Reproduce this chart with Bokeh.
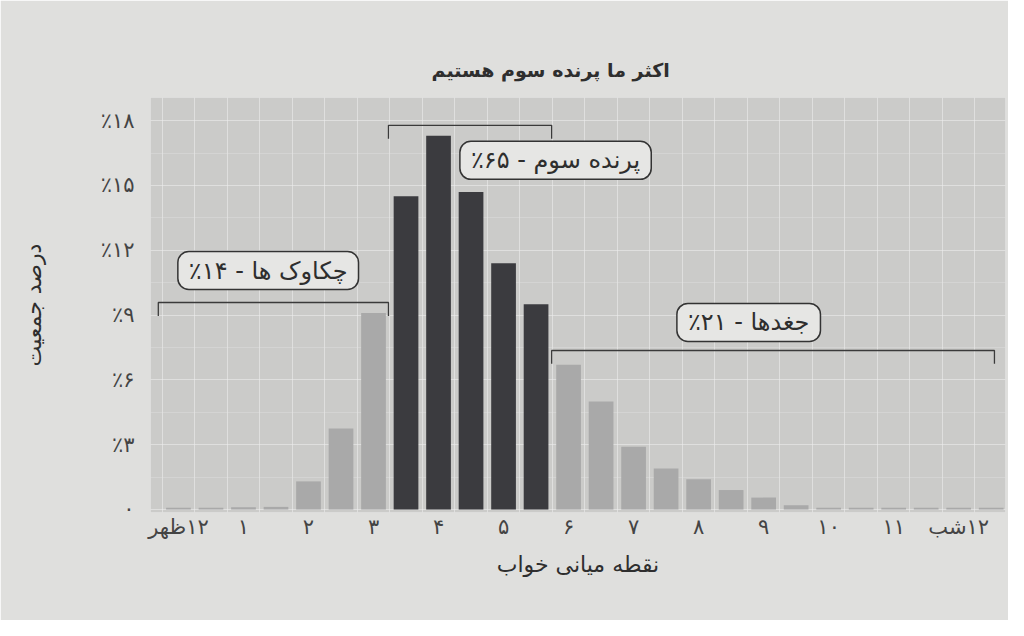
from bokeh.plotting import figure
from bokeh.models import Label, FixedTicker, Range1d, ColumnDataSource
from bokeh.transform import factor_cmap
from bokeh.embed import file_html
from bokeh.resources import INLINE

RLE, PDF = "\u202B", "\u202C"

# ---------------- data ----------------
title_text = "اکثر ما پرنده سوم هستیم"
x_title = "نقطه میانی خواب"
y_title = "درصد جمعیت"

hours = [0.0, 0.5, 1.0, 1.5, 2.0, 2.5, 3.0, 3.5, 4.0, 4.5, 5.0, 5.5, 6.0,
         6.5, 7.0, 7.5, 8.0, 8.5, 9.0, 9.5, 10.0, 10.5, 11.0, 11.5, 12.0, 12.5]
shares = [0.08, 0.08, 0.1, 0.12, 1.3, 3.75, 9.1, 14.5, 17.3, 14.7, 11.4, 9.5, 6.7,
          5.0, 2.9, 1.9, 1.4, 0.9, 0.55, 0.2, 0.08, 0.08, 0.08, 0.08, 0.08, 0.08]
bar_group = (["lark"] * 7) + (["third"] * 5) + (["owl"] * 14)

x_tick_values = [0, 1, 2, 3, 4, 5, 6, 7, 8, 9, 10, 11, 12]
x_tick_labels = ["۱۲ظهر", "۱", "۲", "۳", "۴", "۵", "۶", "۷", "۸", "۹", "۱۰", "۱۱", "۱۲شب"]
y_tick_values = [0, 3, 6, 9, 12, 15, 18]
y_tick_labels = ["۰", "٪۳", "٪۶", "٪۹", "٪۱۲", "٪۱۵", "٪۱۸"]

groups = ["lark", "third", "owl"]
group_names = ["چکاوک ها", "پرنده سوم", "جغدها"]
group_percent = ["۱۴٪", "۶۵٪", "۲۱٪"]
group_start = [-0.31, 3.23, 5.74]
group_end = [3.23, 5.74, 12.55]

# ---------------- styles / layout ----------------
FONT = "DejaVu Sans"
TEXT = "#2e2e2e"
group_colors = ["#a9a9a9", "#3b3b3f", "#a9a9a9"]
bracket_y = [9.58, 17.78, 7.36]
bracket_drop = 0.62
label_pos = [(1.38, 11.06), (5.8, 16.16), (8.77, 8.66)]

p = figure(width=1008, height=620, output_backend="svg", toolbar_location=None,
           x_range=Range1d(-0.43, 12.72), y_range=Range1d(-0.14, 19.07),
           min_border_left=150, min_border_right=3, min_border_top=97,
           min_border_bottom=108)
p.border_fill_color = "#dfdfdd"
p.background_fill_color = "#cbcbc9"
p.outline_line_color = None

p.title.text = RLE + title_text + PDF
p.title.align = "left"
p.title.offset = 281
p.title.standoff = 33
p.title.text_font = FONT
p.title.text_font_size = "19px"
p.title.text_font_style = "bold"
p.title.text_color = TEXT

src = ColumnDataSource(dict(x=hours, top=shares, group=bar_group))
p.vbar(x="x", top="top", bottom=0, width=0.38, source=src, line_color=None,
       fill_color=factor_cmap("group", palette=group_colors, factors=groups))

# brackets
for i in range(3):
    x0, x1, y = group_start[i], group_end[i], bracket_y[i]
    p.line([x0, x0, x1, x1], [y - bracket_drop, y, y, y - bracket_drop],
           line_color="#3a3a3a", line_width=1.3)
    lx, ly = label_pos[i]
    p.add_layout(Label(x=lx, y=ly, text=RLE + group_names[i] + " - " + group_percent[i] + PDF,
                       text_align="center", text_baseline="middle",
                       text_font=FONT, text_font_size="24px", text_color=TEXT,
                       background_fill_color="#e6e6e4", border_line_color="#333333",
                       border_line_width=1.5, border_radius=11, padding=(11, 5)))

# axes
p.xaxis.ticker = FixedTicker(ticks=x_tick_values)
p.xaxis.major_label_overrides = {v: RLE + t + PDF for v, t in zip(x_tick_values, x_tick_labels)}
p.yaxis.ticker = FixedTicker(ticks=y_tick_values,
                             minor_ticks=[v + 1.5 for v in y_tick_values])
p.yaxis.major_label_overrides = {v: t for v, t in zip(y_tick_values, y_tick_labels)}

for ax in (p.xaxis, p.yaxis):
    ax.axis_line_color = None
    ax.major_tick_line_color = None
    ax.minor_tick_line_color = None
    ax.major_label_text_font = FONT
    ax.major_label_text_color = "#444444"
    ax.axis_label_text_font = FONT
    ax.axis_label_text_font_style = "normal"
    ax.axis_label_text_color = TEXT
    ax.axis_label_text_font_size = "22px"

p.xaxis.axis_label = RLE + x_title + PDF
p.xaxis.major_label_text_font_size = "21px"
p.xaxis.major_label_standoff = -4
p.xaxis.axis_label_standoff = 10
p.yaxis.axis_label = RLE + y_title + PDF
p.yaxis.major_label_text_font_size = "21px"
p.yaxis.major_label_standoff = 10
p.yaxis.axis_label_standoff = 52

p.xgrid.ticker = FixedTicker(ticks=[h + 0.25 for h in hours] + [-0.25])
p.xgrid.grid_line_color = "#ececec"
p.xgrid.grid_line_alpha = 0.6
p.ygrid.grid_line_color = "#ececec"
p.ygrid.grid_line_alpha = 0.6
p.ygrid.minor_grid_line_color = "#e4e4e4"
p.ygrid.minor_grid_line_alpha = 0.35

open("out.html", "w").write(file_html(p, INLINE))
